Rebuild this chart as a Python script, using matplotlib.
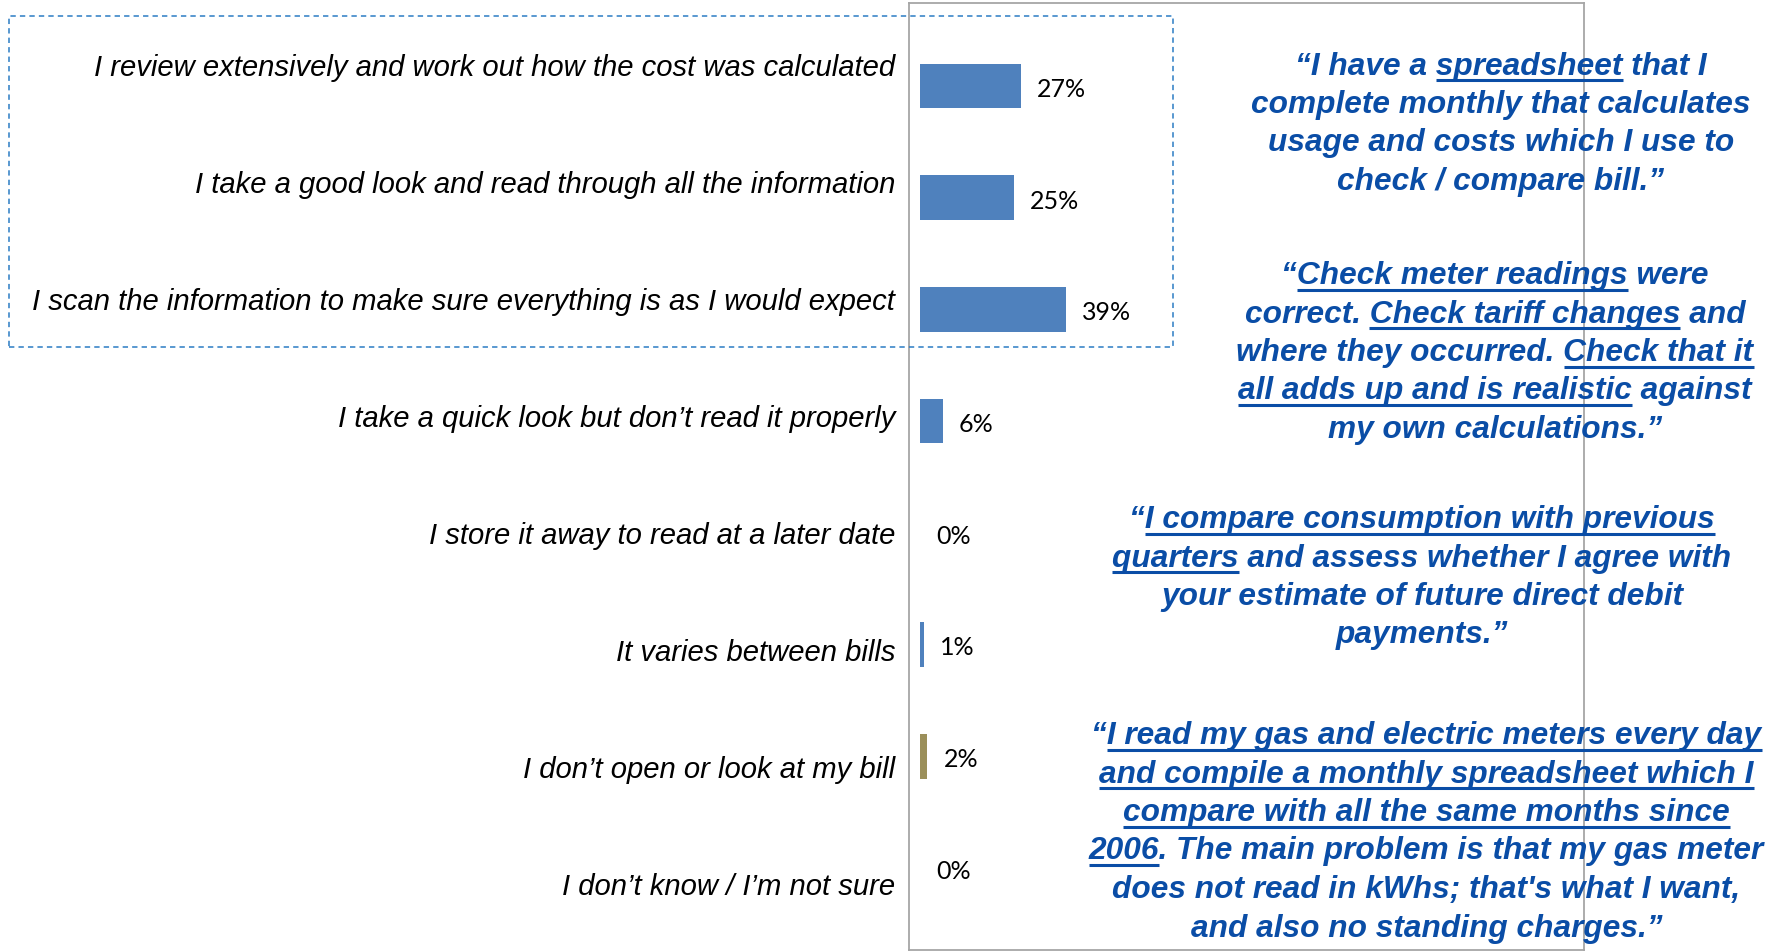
import re
import matplotlib
matplotlib.use("Agg")
import matplotlib.pyplot as plt
from matplotlib.patches import Rectangle
from matplotlib.lines import Line2D
from matplotlib.font_manager import FontProperties

# ---- data ----
categories = [
    "I review extensively and work out how the cost was calculated",
    "I take a good look and read through all the information",
    "I scan the information to make sure everything is as I would expect",
    "I take a quick look but don\u2019t read it properly",
    "I store it away to read at a later date",
    "It varies between bills",
    "I don\u2019t open or look at my bill",
    "I don\u2019t know / I\u2019m not sure",
]
values = [27, 25, 39, 6, 0, 1, 2, 0]
bar_colors = ["#4F81BD"] * 6 + ["#9B8F5A", "#4F81BD"]

# {...} marks the underlined parts
quote_1 = [
    "\u201cI have a {spreadsheet} that I",
    "complete monthly that calculates",
    "usage and costs which I use to",
    "check / compare bill.\u201d",
]
quote_2 = [
    "\u201c{Check meter readings} were",
    "correct. {Check tariff changes} and",
    "where they occurred. {Check that it}",
    "{all adds up and is realistic} against",
    "my own calculations.\u201d",
]
quote_3 = [
    "\u201c{I compare consumption with previous}",
    "{quarters} and assess whether I agree with",
    "your estimate of future direct debit",
    "payments.\u201d",
]
quote_4 = [
    "\u201c{I read my gas and electric meters every day}",
    "{and compile a monthly spreadsheet which I}",
    "{compare with all the same months since}",
    "{2006}. The main problem is that my gas meter",
    "does not read in kWhs; that's what I want,",
    "and also no standing charges.\u201d",
]
quotes = [quote_1, quote_2, quote_3, quote_4]

# ---- layout (pixels of the 1777x951 canvas, y from top) ----
W, H = 1777, 951
quote_anchor = [(1501, 66.5), (1495, 276), (1422, 520), (1426.5, 736)]
line_step = 38.5
QUOTE_BLUE = "#0A4DA6"


def px_box(x0, y0, x1, y1):
    return [x0 / W, 1 - y1 / H, (x1 - x0) / W, (y1 - y0) / H]


fig = plt.figure(figsize=(W / 100, H / 100), dpi=100)

ax = fig.add_axes(px_box(909, 3, 1584, 950))
ypos = list(range(len(categories)))
ax.barh(ypos, values, height=0.4, color=bar_colors)
ax.set_ylim(7.735, -0.743)
ax.set_xlim(-2.93, 177)
ax.set_xticks([])
ax.set_yticks([])
for sp in ax.spines.values():
    sp.set_color("#A6A6A6")
    sp.set_linewidth(1.3)

for i, v in enumerate(values):
    ax.annotate(f"{v}%", (v, i), xytext=(11.5, -2.5), textcoords="offset points",
                ha="left", va="center", fontsize=18, family="Lato", color="black")

# category labels sit on their own (slightly wider) spacing
lab = fig.add_axes(px_box(909, 3, 1584, 950), frameon=False)
lab.set_xlim(0, 1)
lab.set_ylim(7.564, -0.526)
lab.set_xticks([])
lab.set_yticks(ypos, labels=categories)
lab.tick_params(axis="y", length=0, pad=10, labelsize=21.1)
for t in lab.get_yticklabels():
    t.set_fontstyle("italic")
    t.set_family("Liberation Sans")

# dashed highlight box around the top three answers
fig.patches.append(Rectangle((9 / W, 1 - 347 / H), (1173 - 9) / W, (347 - 16) / H,
                             transform=fig.transFigure, fill=False,
                             ec="#2B7CC4", lw=1.1, ls=(0, (3.5, 2.7))))

# ---- quotes with partial underlines ----
qprop = FontProperties(family="Liberation Sans", weight="bold", style="italic", size=22.8)
renderer = fig.canvas.get_renderer()


def text_w(s):
    if not s:
        return 0.0
    return renderer.get_text_width_height_descent(s, qprop, ismath=False)[0]


space_w = text_w("a a") - text_w("aa")
lp_d = renderer.get_text_width_height_descent("lp", qprop, ismath=False)[2]


def prefix_w(s):
    st = s.rstrip(" ")
    return text_w(st) + (len(s) - len(st)) * space_w


for quote, (cx, y0) in zip(quotes, quote_anchor):
    for j, raw in enumerate(quote):
        plain = raw.replace("{", "").replace("}", "")
        y = y0 + j * line_step
        t = fig.text(cx / W, 1 - y / H, plain, ha="center", va="center",
                     fontproperties=qprop, color=QUOTE_BLUE)
        bb = t.get_window_extent(renderer)
        d_line = renderer.get_text_width_height_descent(plain, qprop, ismath=False)[2]
        base = bb.y0 + max(d_line, lp_d)
        uy = base - 5.5
        spans = []
        off = 0
        for m in re.finditer(r"\{([^}]*)\}", raw):
            a = m.start() - off
            b = a + len(m.group(1))
            off += 2
            spans.append((a, b))
        for a, b in spans:
            xa = bb.x0 + prefix_w(plain[:a])
            xb = bb.x0 + text_w(plain[:b])
            fig.add_artist(Line2D([xa / W, xb / W], [uy / H, uy / H],
                                  transform=fig.transFigure, color=QUOTE_BLUE,
                                  lw=2.2, solid_capstyle="butt"))

fig.savefig("out.png", dpi=100)
